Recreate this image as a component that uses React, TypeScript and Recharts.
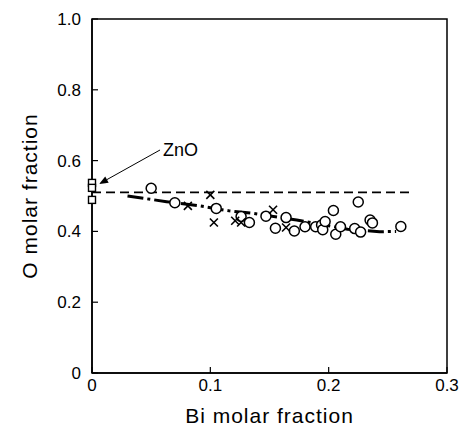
import React from "react";
import {
  ScatterChart, Scatter, XAxis, YAxis, ReferenceLine, ReferenceArea, Label,
} from "recharts";

// ── Data ───────────────────────────────────────────────────

const X_TICKS = [0, 0.1, 0.2, 0.3];
const Y_TICKS = [0, 0.2, 0.4, 0.6, 0.8, 1.0];

const circles = [
  { x: 0.050, y: 0.522 }, { x: 0.070, y: 0.481 }, { x: 0.105, y: 0.465 },
  { x: 0.126, y: 0.442 }, { x: 0.133, y: 0.425 }, { x: 0.147, y: 0.443 },
  { x: 0.155, y: 0.409 }, { x: 0.164, y: 0.439 }, { x: 0.171, y: 0.401 },
  { x: 0.180, y: 0.413 }, { x: 0.189, y: 0.413 }, { x: 0.194, y: 0.418 },
  { x: 0.195, y: 0.405 }, { x: 0.197, y: 0.428 }, { x: 0.204, y: 0.459 },
  { x: 0.206, y: 0.392 }, { x: 0.210, y: 0.413 }, { x: 0.222, y: 0.408 },
  { x: 0.225, y: 0.483 }, { x: 0.227, y: 0.398 }, { x: 0.235, y: 0.432 },
  { x: 0.237, y: 0.424 }, { x: 0.261, y: 0.414 },
];

const crosses = [
  { x: 0.081, y: 0.472 }, { x: 0.100, y: 0.503 }, { x: 0.103, y: 0.425 },
  { x: 0.121, y: 0.430 }, { x: 0.126, y: 0.425 }, { x: 0.153, y: 0.461 },
  { x: 0.164, y: 0.411 },
];

const zno = [{ x: 0, y: 0.537 }, { x: 0, y: 0.523 }, { x: 0, y: 0.489 }];

const trend = [
  { x: 0.030, y: 0.500 }, { x: 0.063, y: 0.484 }, { x: 0.091, y: 0.472 },
  { x: 0.116, y: 0.458 }, { x: 0.136, y: 0.451 }, { x: 0.173, y: 0.432 },
  { x: 0.216, y: 0.406 }, { x: 0.243, y: 0.399 }, { x: 0.257, y: 0.400 },
];

const ZNO_LEVEL = 0.51;
const ZNO_LEVEL_END = 0.271;
const ARROW = [{ x: 0.0575, y: 0.63 }, { x: 0.006, y: 0.534 }];

// ── Shapes ─────────────────────────────────────────────────

const INK = "#000";
const FONT = "'Liberation Sans', Arial, sans-serif";

function CircleMark({ cx, cy }: any) {
  return <circle cx={cx} cy={cy} r={5} fill="#fff" stroke={INK} strokeWidth={1.5} />;
}

function CrossMark({ cx, cy }: any) {
  const s = 4;
  return (
    <g stroke={INK} strokeWidth={1.6}>
      <line x1={cx - s} y1={cy - s} x2={cx + s} y2={cy + s} />
      <line x1={cx - s} y1={cy + s} x2={cx + s} y2={cy - s} />
    </g>
  );
}

function SquareMark({ cx, cy }: any) {
  return <rect x={cx - 3.5} y={cy - 3.5} width={7} height={7} fill="#fff" stroke={INK} strokeWidth={1.4} />;
}

function NoMark() {
  return <g />;
}

function ArrowShape({ x1, y1, x2, y2 }: any) {
  const ang = Math.atan2(y2 - y1, x2 - x1);
  const len = 9;
  const w = 3.5;
  const bx = x2 - len * Math.cos(ang);
  const by = y2 - len * Math.sin(ang);
  const px = -Math.sin(ang) * w;
  const py = Math.cos(ang) * w;
  return (
    <g>
      <line x1={x1} y1={y1} x2={bx} y2={by} stroke={INK} strokeWidth={1} />
      <polygon points={`${x2},${y2} ${bx + px},${by + py} ${bx - px},${by - py}`} fill={INK} />
      <text x={x1 + 3} y={y1 + 6} fontFamily={FONT} fontSize={18} fill={INK}>ZnO</text>
    </g>
  );
}

const fmt = (v: number) => (v === 0 ? "0" : v.toFixed(1));

// ── Component ──────────────────────────────────────────────

export default function App() {
  return (
    <div style={{ position: "absolute", left: 0, top: 0, background: "#fff" }}>
      <ScatterChart width={465} height={443} margin={{ top: 19, right: 18, left: 0, bottom: 0 }}>
        <XAxis
          type="number" dataKey="x" domain={[0, 0.3]} ticks={X_TICKS} tickFormatter={fmt}
          height={70} tickSize={-6} tickMargin={12}
          axisLine={{ stroke: INK, strokeWidth: 1.5 }} tickLine={{ stroke: INK, strokeWidth: 1.2 }}
          tick={{ fill: INK, fontSize: 17, fontFamily: FONT }}
        >
          <Label value="Bi molar fraction" position="insideBottom" offset={20}
            style={{ fill: INK, fontSize: 21, fontFamily: FONT, letterSpacing: 1 }} />
        </XAxis>
        <YAxis
          type="number" dataKey="y" domain={[0, 1]} ticks={Y_TICKS} tickFormatter={fmt}
          width={92} tickSize={-6} tickMargin={17}
          axisLine={{ stroke: INK, strokeWidth: 1.5 }} tickLine={{ stroke: INK, strokeWidth: 1.2 }}
          tick={{ fill: INK, fontSize: 17, fontFamily: FONT }}
        >
          <Label value="O molar fraction" angle={-90} position="insideLeft" offset={30}
            style={{ fill: INK, fontSize: 21, fontFamily: FONT, letterSpacing: 1, textAnchor: "middle" }} />
        </YAxis>

        <ReferenceArea x1={0} x2={0.3} y1={0} y2={1} fill="none" stroke={INK} strokeWidth={1.5} ifOverflow="visible" />

        <ReferenceLine
          segment={[{ x: 0, y: ZNO_LEVEL }, { x: ZNO_LEVEL_END, y: ZNO_LEVEL }]}
          stroke={INK} strokeWidth={1.8} strokeDasharray="9 5"
        />
        <ReferenceLine segment={ARROW} shape={ArrowShape} ifOverflow="visible" />

        <Scatter data={trend} shape={NoMark} isAnimationActive={false}
          line={{ stroke: INK, strokeWidth: 3, strokeDasharray: "16 4 3 4" }} />
        <Scatter data={circles} shape={CircleMark} isAnimationActive={false} />
        <Scatter data={crosses} shape={CrossMark} isAnimationActive={false} />
        <Scatter data={zno} shape={SquareMark} isAnimationActive={false} />
      </ScatterChart>
    </div>
  );
}
